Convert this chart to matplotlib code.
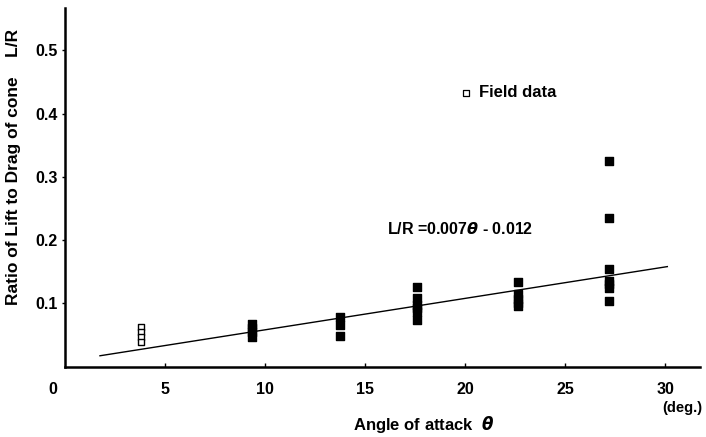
import matplotlib
matplotlib.use("Agg")
import matplotlib.pyplot as plt

# Field data (open squares)
field_x = [3.8, 3.8, 3.8, 3.8]
field_y = [0.062, 0.054, 0.046, 0.039]

# Experimental data (filled squares)
exp_x = [9.35, 9.35, 9.35, 9.35,
         13.75, 13.75, 13.75,
         17.6, 17.6, 17.6, 17.6, 17.6, 17.6,
         22.65, 22.65, 22.65, 22.65, 22.65,
         27.2, 27.2, 27.2, 27.2, 27.2, 27.2, 27.2]
exp_y = [0.068, 0.061, 0.054, 0.047,
         0.078, 0.066, 0.048,
         0.125, 0.108, 0.098, 0.092, 0.086, 0.074,
         0.134, 0.115, 0.107, 0.101, 0.095,
         0.325, 0.235, 0.154, 0.135, 0.130, 0.124, 0.104]

# fitted line as drawn
fit_x = [1.75, 30.1]
fit_y = [0.017, 0.158]

xticks = [5, 10, 15, 20, 25, 30]
yticks = [0.1, 0.2, 0.3, 0.4, 0.5]

plt.rcParams['font.family'] = ['Liberation Sans', 'DejaVu Sans']
plt.rcParams['font.weight'] = 'bold'

fig = plt.figure(figsize=(7.06, 4.37), dpi=100)
ax = fig.add_axes([0.092, 0.1613, 0.9, 0.8204])

ax.plot(fit_x, fit_y, color='black', lw=1.0)
ax.scatter(exp_x, exp_y, marker='s', s=30, color='black', zorder=3)
ax.scatter(field_x, field_y, marker='s', s=22, facecolor='white',
           edgecolor='black', linewidths=1.0, zorder=3)

ax.set_xlim(0, 31.75)
ax.set_ylim(0, 0.567)
ax.set_xticks(xticks)
ax.set_yticks(yticks)
ax.set_xticklabels([str(t) for t in xticks], fontsize=11.5, fontweight='bold')
ax.set_yticklabels(['%.1f' % t for t in yticks], fontsize=11.5, fontweight='bold')
ax.tick_params(axis='x', direction='in', length=3, width=1, pad=11)
ax.tick_params(axis='y', direction='out', length=2, width=1, pad=3)

for side in ['top', 'right']:
    ax.spines[side].set_visible(False)
for side in ['left', 'bottom']:
    ax.spines[side].set_linewidth(1.8)

# zero label sits left of the origin
ax.text(-0.6, -0.037, '0', fontsize=11.5, fontweight='bold', ha='center', va='center')
ax.text(29.85, -0.065, '(deg.)', fontsize=10.5, fontweight='bold', ha='left', va='center')

ax.set_xlabel(r'Angle of attack  $\theta$', fontsize=12, fontweight='bold', va='center')
ax.xaxis.set_label_coords(0.564, -0.162)
ax.set_ylabel('Ratio of Lift to Drag of cone    L/R', fontsize=12.5, fontweight='bold', va='center')
ax.yaxis.set_label_coords(-0.081, 0.556)

# legend-like label
ax.scatter([20.05], [0.433], marker='s', s=18, facecolor='white',
           edgecolor='black', linewidths=0.9)
ax.text(20.7, 0.433, 'Field data', fontsize=12, fontweight='bold', va='center')

ax.text(16.1, 0.217, r'L/R =0.007$\theta$ - 0.012', fontsize=11.5, fontweight='bold', va='center')

fig.savefig('out.png', dpi=100)
